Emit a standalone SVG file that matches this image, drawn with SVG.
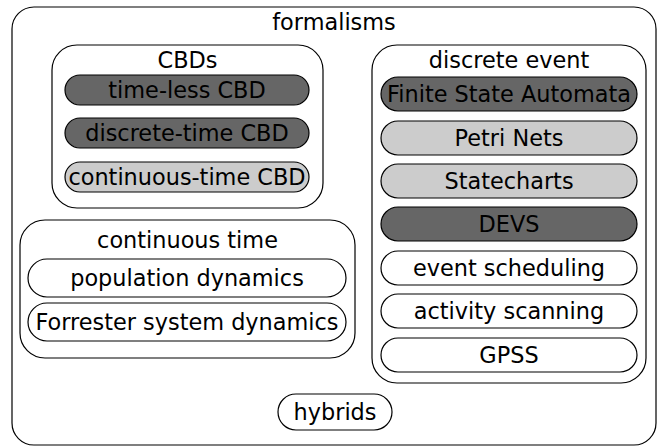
<svg xmlns="http://www.w3.org/2000/svg" width="660" height="447" viewBox="0 0 660 447">
<style>
rect{stroke:#000;stroke-width:1.2}
.w{fill:#fff}
.d{fill:#666}
.l{fill:#ccc}
text{font-family:"DejaVu Sans",sans-serif;font-size:22.4px;fill:#000;text-anchor:middle}
</style>
<rect width="660" height="447" fill="#fff" style="stroke:none"/>
<g id="formalisms">
<rect class="w" x="12" y="7" width="644" height="438" rx="22"/>
<text x="334" y="30">formalisms</text>
</g>
<g id="cbds">
<rect class="w" x="52" y="45" width="271" height="163" rx="25"/>
<text x="187.5" y="68">CBDs</text>
</g>
<g id="timeless-cbd"><rect class="d" x="65" y="75" width="244" height="30" rx="15"/><text x="187" y="98">time-less CBD</text></g>
<g id="discrete-time-cbd"><rect class="d" x="65" y="118" width="244" height="30" rx="15"/><text x="187" y="141">discrete-time CBD</text></g>
<g id="continuous-time-cbd"><rect class="l" x="65" y="162" width="244" height="30" rx="15"/><text x="187" y="185">continuous-time CBD</text></g>
<g id="discrete-event">
<rect class="w" x="372" y="45" width="274" height="338" rx="25"/>
<text x="509" y="68">discrete event</text>
</g>
<g id="fsa"><rect class="d" x="381" y="77" width="256" height="34" rx="17"/><text x="509" y="102">Finite State Automata</text></g>
<g id="petri-nets"><rect class="l" x="381" y="121" width="256" height="34" rx="17"/><text x="509" y="146">Petri Nets</text></g>
<g id="statecharts"><rect class="l" x="381" y="164" width="256" height="34" rx="17"/><text x="509" y="189">Statecharts</text></g>
<g id="devs"><rect class="d" x="381" y="207" width="256" height="34" rx="17"/><text x="509" y="232">DEVS</text></g>
<g id="event-scheduling"><rect class="w" x="381" y="251" width="256" height="34" rx="17"/><text x="509" y="276">event scheduling</text></g>
<g id="activity-scanning"><rect class="w" x="381" y="294" width="256" height="34" rx="17"/><text x="509" y="319">activity scanning</text></g>
<g id="gpss"><rect class="w" x="381" y="338" width="256" height="34" rx="17"/><text x="509" y="363">GPSS</text></g>
<g id="continuous-time">
<rect class="w" x="20" y="220" width="335" height="138" rx="25"/>
<text x="187.5" y="248">continuous time</text>
</g>
<g id="population-dynamics"><rect class="w" x="28" y="259" width="318" height="38" rx="19"/><text x="187" y="286">population dynamics</text></g>
<g id="forrester"><rect class="w" x="28" y="303" width="318" height="38" rx="19"/><text x="187" y="330">Forrester system dynamics</text></g>
<g id="hybrids"><rect class="w" x="278" y="394" width="114" height="36" rx="18"/><text x="335" y="420">hybrids</text></g>
<g id="connectors"/>
</svg>
